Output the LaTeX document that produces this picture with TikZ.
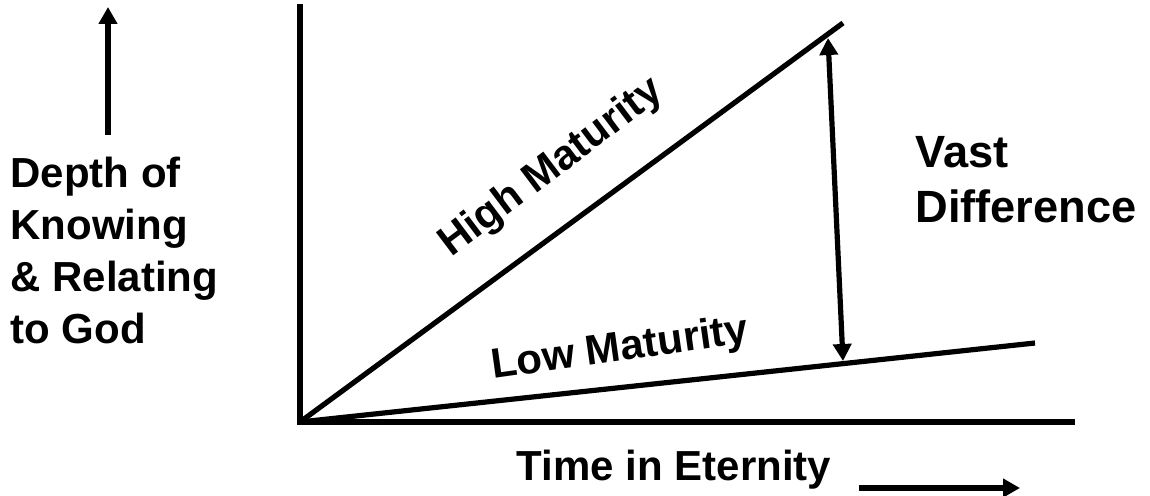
\documentclass[tikz,border=0pt]{standalone}
\usepackage{fontspec}
\setmainfont{Liberation Sans}
\usetikzlibrary{arrows.meta}
\begin{document}
\begin{tikzpicture}[x=0.5pt,y=-0.5pt,
  lbl/.style={font=\bfseries\fontsize{21}{21}\selectfont, inner sep=0pt},
  biglbl/.style={font=\bfseries\fontsize{22.6}{22.6}\selectfont, inner sep=0pt},
  axis/.style={line width=3.2pt},
  trend/.style={line width=2.6pt},
  arr/.style={line width=3pt, -{Triangle[width=9pt,length=8.5pt]}},
  darr/.style={line width=2.6pt, {Triangle[width=9pt,length=8.5pt]}-{Triangle[width=9pt,length=8.5pt]}}]
\useasboundingbox (0,0) rectangle (1150,496);
% key points
\coordinate (O) at (300,422);
\coordinate (ytop) at (300,7);
\coordinate (xend) at (1072,422);
\coordinate (hi) at (843,23);
\coordinate (lo) at (1035,343);
\coordinate (dtop) at (828,38);
\coordinate (dbot) at (843,361);
\coordinate (upA) at (108,135);
\coordinate (upB) at (108,7);
\coordinate (rtA) at (859,488);
\coordinate (rtB) at (1020,488);
% axes
\draw[axis, line cap=rect] (ytop) -- (O) -- (xend);
% trend lines
\draw[trend] (O) -- (hi);
\draw[trend] (O) -- (lo);
% arrows
\draw[darr] (dbot) -- (dtop);
\draw[arr] (upA) -- (upB);
\draw[arr] (rtA) -- (rtB);
% labels
\node[lbl, anchor=west, align=left] (depth) at (10,250)
  {Depth of\\[5pt]Knowing\\[5pt]\& Relating\\[5pt]to God};
\node[biglbl, anchor=west, align=left] (vast) at (915,180)
  {Vast\\[5pt]Difference};
\node[lbl] (time) at (674,470) {Time in Eternity};
\node[lbl, rotate=37] (high) at (552,168) {High Maturity};
\node[lbl, rotate=8] (low) at (620,350) {Low Maturity};
\end{tikzpicture}
\end{document}
